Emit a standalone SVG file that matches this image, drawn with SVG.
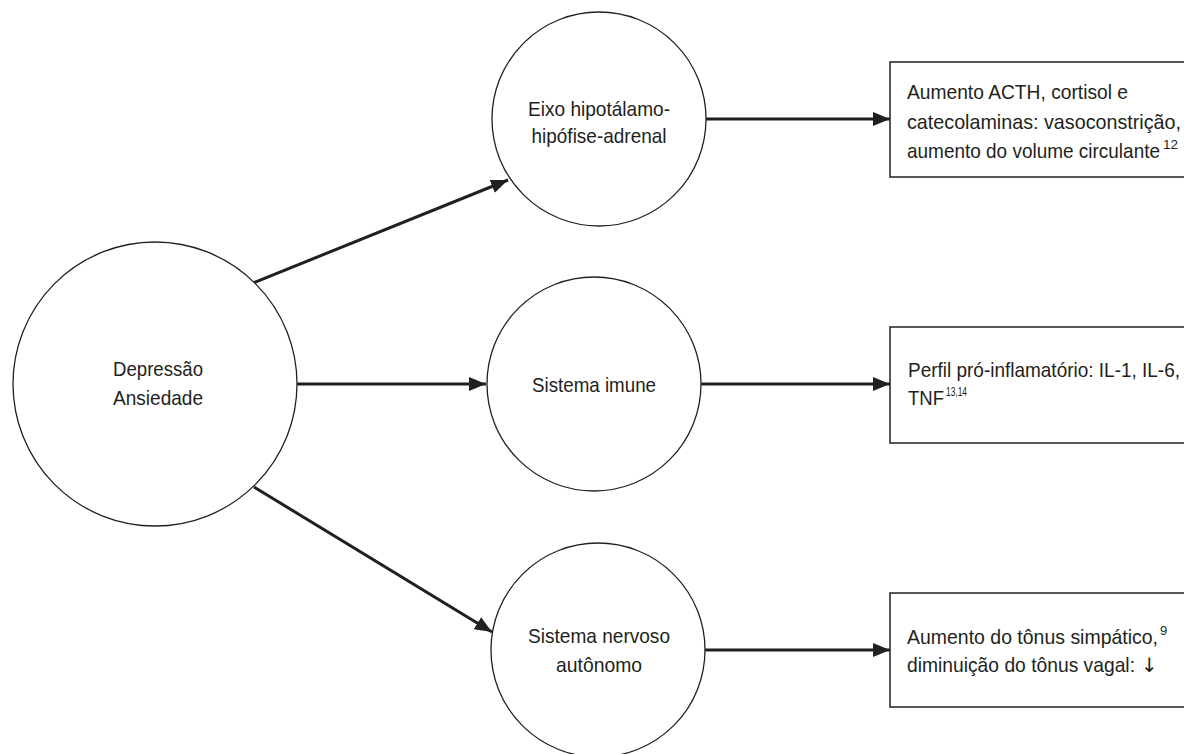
<svg xmlns="http://www.w3.org/2000/svg" width="1184" height="754" viewBox="0 0 1184 754">
<style>
text{font-family:"Liberation Sans",Arial,sans-serif;font-size:21px;fill:#231f20}
.c{text-anchor:middle}
.node circle{fill:#fff;stroke:#231f20;stroke-width:1.3}
.node rect{fill:#fff;stroke:#231f20;stroke-width:1.5}
.conn line{stroke:#231f20;stroke-width:3;marker-end:url(#ah)}
.sup{font-size:13px}
.arr{font-family:"DejaVu Sans",sans-serif;font-size:20px}
</style>
<defs>
<marker id="ah" markerUnits="userSpaceOnUse" markerWidth="18" markerHeight="14" refX="17" refY="7" orient="auto">
<path d="M0,0 L17,7 L0,14 Z" fill="#231f20"/>
</marker>
</defs>
<g class="conn">
<line x1="253" y1="283" x2="508" y2="180"/>
<line x1="296" y1="384" x2="486" y2="384"/>
<line x1="254" y1="487" x2="492" y2="632"/>
<line x1="706" y1="119" x2="890" y2="119"/>
<line x1="701" y1="384" x2="890" y2="384"/>
<line x1="705" y1="650" x2="890" y2="650"/>
</g>
<g id="n-dep" class="node">
<circle cx="155" cy="384" r="142"/>
<text class="c" x="158" y="376" textLength="90" lengthAdjust="spacingAndGlyphs">Depressão</text>
<text class="c" x="158" y="405" textLength="90" lengthAdjust="spacingAndGlyphs">Ansiedade</text>
</g>
<g id="n-hpa" class="node">
<circle cx="599" cy="119" r="107"/>
<text class="c" x="599" y="116" textLength="142" lengthAdjust="spacingAndGlyphs">Eixo hipotálamo-</text>
<text class="c" x="599" y="143" textLength="135" lengthAdjust="spacingAndGlyphs">hipófise-adrenal</text>
</g>
<g id="n-imune" class="node">
<circle cx="594" cy="384" r="107"/>
<text class="c" x="594" y="392" textLength="124" lengthAdjust="spacingAndGlyphs">Sistema imune</text>
</g>
<g id="n-sna" class="node">
<circle cx="598" cy="650" r="107"/>
<text class="c" x="599" y="643" textLength="142" lengthAdjust="spacingAndGlyphs">Sistema nervoso</text>
<text class="c" x="599" y="672" textLength="86" lengthAdjust="spacingAndGlyphs">autônomo</text>
</g>
<g id="b-hpa" class="node">
<rect x="890" y="62" width="310" height="115"/>
<text x="907" y="99" textLength="221" lengthAdjust="spacingAndGlyphs">Aumento ACTH, cortisol e</text>
<text x="907" y="129" textLength="274" lengthAdjust="spacingAndGlyphs">catecolaminas: vasoconstrição,</text>
<text x="907" y="158" textLength="253" lengthAdjust="spacingAndGlyphs">aumento do volume circulante</text>
<text class="sup" x="1163" y="149" textLength="15" lengthAdjust="spacingAndGlyphs">12</text>
</g>
<g id="b-imune" class="node">
<rect x="890" y="327" width="310" height="116"/>
<text x="908" y="377" textLength="272" lengthAdjust="spacingAndGlyphs">Perfil pró-inflamatório: IL-1, IL-6,</text>
<text x="908" y="405" textLength="36" lengthAdjust="spacingAndGlyphs">TNF</text>
<text class="sup" x="946" y="396" textLength="21" lengthAdjust="spacingAndGlyphs">13,14</text>
</g>
<g id="b-sna" class="node">
<rect x="890" y="593" width="310" height="114"/>
<text x="907" y="644" textLength="251" lengthAdjust="spacingAndGlyphs">Aumento do tônus simpático,</text>
<text class="sup" x="1160" y="635">9</text>
<text x="907" y="672" textLength="228" lengthAdjust="spacingAndGlyphs">diminuição do tônus vagal:</text>
<text class="arr" x="1141" y="672">↓</text>
</g>
</svg>
